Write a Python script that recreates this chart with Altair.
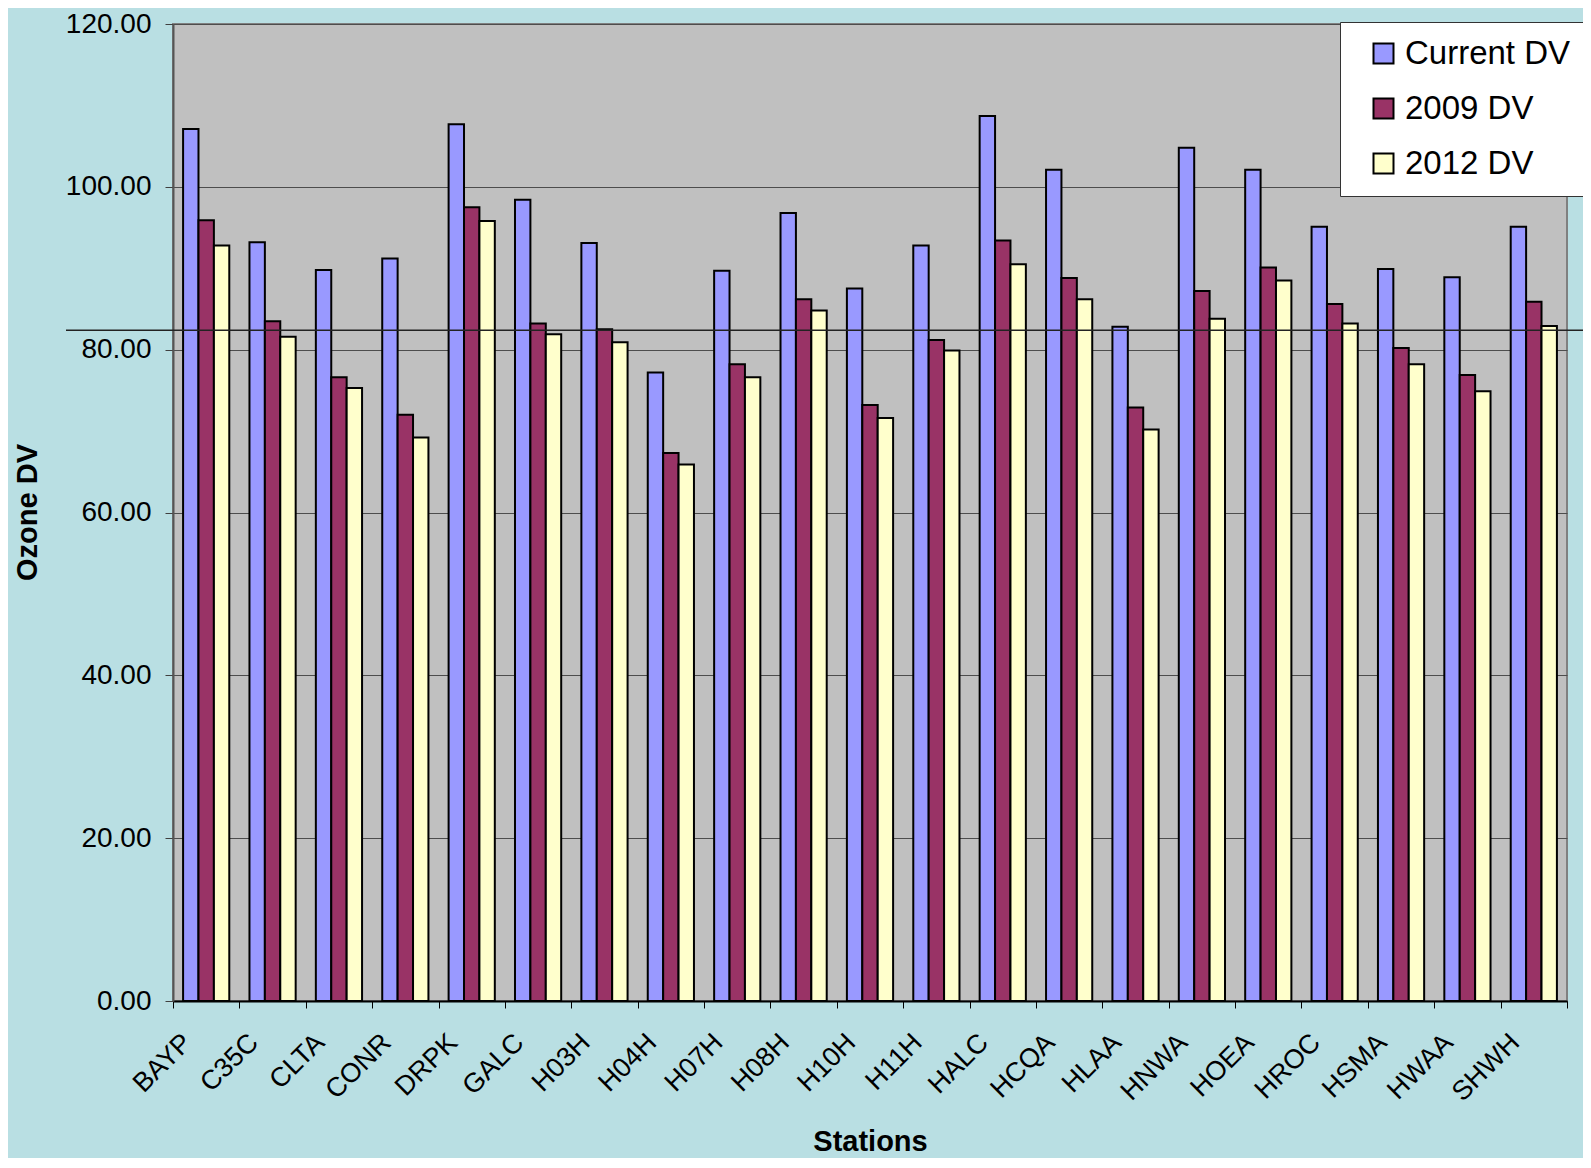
import altair as alt
import pandas as pd

stations = ["BAYP", "C35C", "CLTA", "CONR", "DRPK", "GALC", "H03H", "H04H", "H07H", "H08H",
            "H10H", "H11H", "HALC", "HCQA", "HLAA", "HNWA", "HOEA", "HROC", "HSMA", "HWAA", "SHWH"]
current_dv = [107.1, 93.2, 89.8, 91.2, 107.7, 98.4, 93.1, 77.2, 89.7, 96.8,
              87.5, 92.8, 108.7, 102.1, 82.8, 104.8, 102.1, 95.1, 89.9, 88.9, 95.1]
dv_2009 = [95.9, 83.5, 76.6, 72.0, 97.5, 83.2, 82.5, 67.3, 78.2, 86.2,
           73.2, 81.2, 93.4, 88.8, 72.9, 87.2, 90.1, 85.6, 80.2, 76.9, 85.9]
dv_2012 = [92.8, 81.6, 75.3, 69.2, 95.8, 81.9, 80.9, 65.9, 76.6, 84.8,
           71.6, 79.9, 90.5, 86.2, 70.2, 83.8, 88.5, 83.2, 78.2, 74.9, 82.9]
series = ["Current DV", "2009 DV", "2012 DV"]
colors = ["#9999FF", "#993366", "#FFFFCC"]
standard_level = [82.4]
y_ticks = [0, 20, 40, 60, 80, 100, 120]

rows = []
for name, vals in zip(series, [current_dv, dv_2009, dv_2012]):
    for s, v in zip(stations, vals):
        rows.append({"station": s, "series": name, "value": v})
df = pd.DataFrame(rows)
line_df = pd.DataFrame({"level": standard_level})

FONT = "Liberation Sans"

bars = alt.Chart(df).mark_bar(stroke="#000000", strokeWidth=2).encode(
    x=alt.X("station:N", sort=stations,
            scale=alt.Scale(paddingInner=0, paddingOuter=0),
            axis=alt.Axis(title="Stations", labelAngle=315, labelAlign="right",
                          labelBaseline="middle", labelFontSize=27, labelFont=FONT,
                          labelColor="#000000", labelPadding=30, labelOffset=-19,
                          tickBand="extent", tickSize=7, tickColor="#000000",
                          domainColor="#000000", domainWidth=2,
                          titleFont=FONT, titleFontSize=29, titleFontWeight="bold",
                          titleColor="#000000", titleBaseline="alphabetic", titleY=149,
                          grid=False)),
    xOffset=alt.XOffset("series:N", sort=series,
                        scale=alt.Scale(paddingOuter=0.655, paddingInner=0)),
    y=alt.Y("value:Q", scale=alt.Scale(domain=[0, 120], nice=False),
            axis=alt.Axis(title="Ozone DV", values=y_ticks, format=".2f",
                          labelFontSize=28, labelFont=FONT, labelColor="#000000",
                          labelPadding=14, tickSize=8, tickColor="#404040",
                          domainColor="#555555", domainWidth=2,
                          gridColor="#4d4d4d", gridWidth=1, grid=True,
                          titleFont=FONT, titleFontSize=29, titleFontWeight="bold",
                          titleColor="#000000", titleAngle=270, titleBaseline="alphabetic",
                          titleAlign="center", titleX=-137, titleY=488)),
    color=alt.Color("series:N", sort=series,
                    scale=alt.Scale(domain=series, range=colors),
                    legend=alt.Legend(title=None, orient="none", legendX=1167, legendY=-2,
                                      fillColor="#FFFFFF", strokeColor="#333333",
                                      padding=15, symbolType="square", symbolSize=400,
                                      symbolStrokeColor="#000000", symbolStrokeWidth=2,
                                      symbolOffset=12, labelOffset=5,
                                      labelFontSize=33, labelFont=FONT, labelColor="#000000",
                                      rowPadding=21, labelLimit=300)),
)

rule = alt.Chart(line_df).mark_rule(color="#222222", strokeWidth=1.5).encode(
    y=alt.Y("level:Q"),
    x=alt.value(-107),
    x2=alt.value(1414),
)

chart = alt.layer(bars, rule).properties(
    width=1394,
    height=977,
    background="#B9DFE3",
    autosize=alt.AutoSizeParams(type="none"),
    padding={"left": 165, "top": 16, "right": 16, "bottom": 157},
).configure_view(
    fill="#C0C0C0", stroke="#808080", strokeWidth=2
)

chart.save("out.html", embed_options={"renderer": "svg", "actions": False})
